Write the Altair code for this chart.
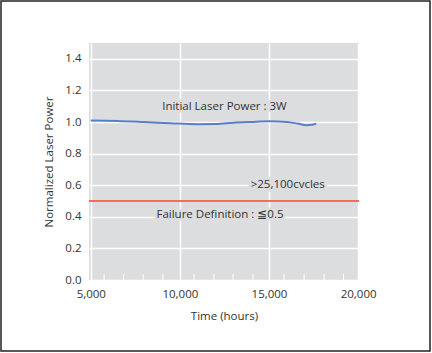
import altair as alt
import pandas as pd

# Data
time_h = [5000, 6500, 8000, 9500, 11000, 12000, 13000, 14000, 15000, 16000, 16600, 17100, 17400, 17650]
power = [1.01, 1.007, 1.0, 0.992, 0.986, 0.987, 0.995, 1.0, 1.004, 1.0, 0.99, 0.98, 0.982, 0.99]
failure_level = 0.5
minor_ticks = [5750, 6840, 7940, 9050, 10790, 11910, 12980, 14100, 15840, 16970, 18090, 19180]
x_ticks = [5000, 10000, 15000, 20000]
y_ticks = [0.0, 0.2, 0.4, 0.6, 0.8, 1.0, 1.2, 1.4]
notes = ["Initial Laser Power : 3W", ">25,100cvcles", "Failure Definition : \u22660.5"]
note_x = [12500, 16050, 12250]
note_y = [1.095, 0.6, 0.41]

FONT = "Open Sans"
BG = "#dcdddf"
FS = 11.5

line_df = pd.DataFrame({"t": time_h, "p": power})
fail_df = pd.DataFrame({"p": [failure_level]})
tick_df = pd.DataFrame({"t": minor_ticks})
note_df = pd.DataFrame({"label": notes, "t": note_x, "p": note_y})

xs = alt.Scale(domain=[4900, 20050], nice=False, zero=False)
ys = alt.Scale(domain=[0, 1.5], nice=False)

xax = alt.Axis(values=x_ticks, format=",d", title="Time (hours)", grid=True, ticks=False,
               domain=False, labelPadding=8, titlePadding=11, labelFlush=False,
               labelOverlap=False)
yax = alt.Axis(values=y_ticks, format=".1f", title="Normalized Laser Power", grid=True,
               ticks=False, domain=False, labelPadding=8, titlePadding=10,
               labelOverlap=False, labelFlush=False)


def X(f="t:Q"):
    return alt.X(f, scale=xs, axis=xax)


def Y(f="p:Q"):
    return alt.Y(f, scale=ys, axis=yax)


line = alt.Chart(line_df).mark_line(color="#5a7fc8", strokeWidth=2, interpolate="monotone").encode(
    x=X(), y=Y())

fail = alt.Chart(fail_df).mark_rule(color="#f0704f", strokeWidth=2).encode(y=Y())

ticks = alt.Chart(tick_df).mark_rule(color="white", strokeWidth=1).encode(
    x=X(), y=alt.value(237), y2=alt.value(231))

halo = alt.Chart(note_df).mark_text(font=FONT, fontSize=FS, stroke=BG, strokeWidth=5,
                                    fill=BG).encode(x=X(), y=Y(), text="label:N")
text = alt.Chart(note_df).mark_text(font=FONT, fontSize=FS, color="#333333").encode(
    x=X(), y=Y(), text="label:N")

frame = alt.Chart(fail_df).mark_rect(fill="transparent", stroke="#222222", strokeWidth=1.5,
                                     clip=False).encode(
    x=alt.value(-88), x2=alt.value(341), y=alt.value(-42), y2=alt.value(308))

chart = alt.layer(line, fail, ticks, halo, text, frame).properties(
    width=270, height=237,
    padding={"left": 89, "top": 43, "right": 73, "bottom": 73},
    autosize=alt.AutoSizeParams(type="none"),
    background="white",
).configure_view(fill=BG, stroke=None).configure_axis(
    gridColor="white", gridWidth=1.5, labelFont=FONT, titleFont=FONT,
    labelFontSize=FS, titleFontSize=FS, labelColor="#333333", titleColor="#333333",
    titleFontWeight="normal")

chart.save("out.html", embed_options={"renderer": "svg", "actions": False})
